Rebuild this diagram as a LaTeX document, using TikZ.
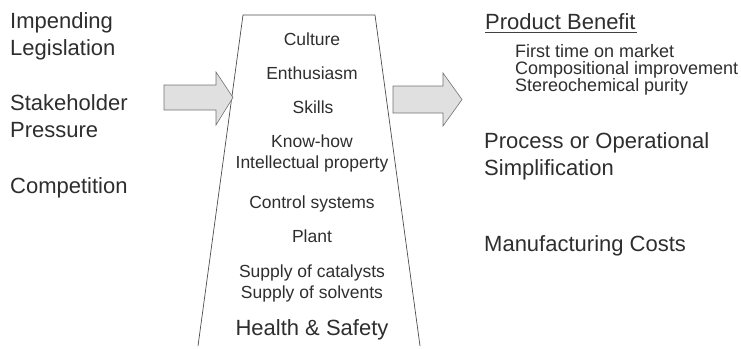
\documentclass[tikz,border=0pt]{standalone}
\usepackage{fontspec}
\setmainfont{Liberation Sans}
\begin{document}
\begin{tikzpicture}[x=1pt,y=-1pt,
  big/.style={font=\fontsize{22}{27}\selectfont, text=black!82, inner sep=0pt},
  small/.style={font=\fontsize{17.5}{17}\selectfont, text=black!82, inner sep=0pt},
  sub/.style={font=\fontsize{18}{17}\selectfont, text=black!82, inner sep=0pt},
  lw/.style={anchor=base west},
  mid/.style={anchor=base},
  edge/.style={draw=black!70, line width=0.7pt},
  fatarrow/.style={draw=black!55, line width=0.6pt, fill=black!12}]
\useasboundingbox (0,0) rectangle (741,348);
% left texts
\node[big,lw] (l1) at (10,28) {Impending};
\node[big,lw] (l2) at (10,55) {Legislation};
\node[big,lw] (l3) at (10,110) {Stakeholder};
\node[big,lw] (l4) at (10,137) {Pressure};
\node[big,lw] (l5) at (10,193) {Competition};
% trapezoid
\coordinate (tl) at (243,15);
\coordinate (tr) at (375,15);
\coordinate (bl) at (198,346);
\coordinate (br) at (420,346);
\draw[edge] (bl) -- (tl) -- (tr) -- (br);
% middle texts
\node[small,mid] (m1) at (312,45) {Culture};
\node[small,mid] (m2) at (312,79) {Enthusiasm};
\node[small,mid] (m3) at (313,113) {Skills};
\node[small,mid] (m4) at (312,147) {Know-how};
\node[small,mid] (m5) at (312,168) {Intellectual property};
\node[small,mid] (m6) at (312,208) {Control systems};
\node[small,mid] (m7) at (312,242) {Plant};
\node[small,mid] (m8) at (312,277) {Supply of catalysts};
\node[small,mid] (m9) at (312,298) {Supply of solvents};
\node[big,mid] (m10) at (312,335) {Health \& Safety};
% arrows
\draw[fatarrow] (164,85) -- (216,85) -- (216,72) -- (233,97.5) -- (216,125) -- (216,110) -- (164,110) -- cycle;
\draw[fatarrow] (393,86) -- (443,86) -- (443,73) -- (462,99.5) -- (443,126) -- (443,113) -- (393,113) -- cycle;
% right texts
\node[big,lw] (r1) at (485,29) {Product Benefit};
\draw[black!75, line width=0.8pt] (r1.base west) ++(0,3) -- ++(152,0);
\node[sub,lw] (r2) at (515,57) {First time on market};
\node[sub,lw] (r3) at (515,74) {Compositional improvement};
\node[sub,lw] (r4) at (515,91) {Stereochemical purity};
\node[big,lw] (r5) at (484,148) {Process or Operational};
\node[big,lw] (r6) at (484,175) {Simplification};
\node[big,lw] (r7) at (484,251) {Manufacturing Costs};
\end{tikzpicture}
\end{document}
